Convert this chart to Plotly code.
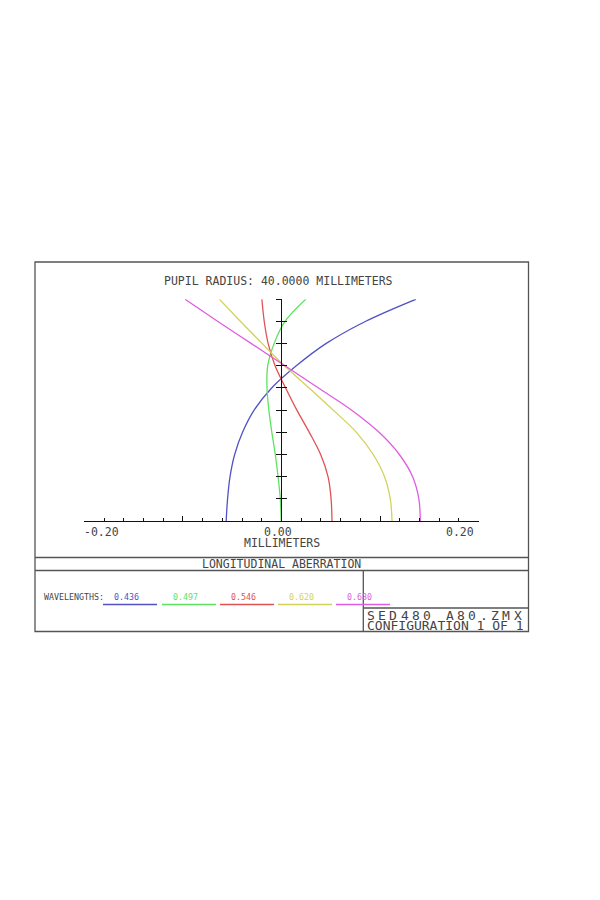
"""Longitudinal aberration plot (lens design report style)."""

import plotly.graph_objects as go

# ── Data ──────────────────────────────────────────────────────────────────────
WAVELENGTHS = ["0.436", "0.497", "0.546", "0.620", "0.680"]
COLORS = ["#5252c6", "#5ee35e", "#e05252", "#d2d25a", "#e05ce0"]

# normalised pupil coordinate
PUPIL = [0.0, 0.1, 0.2, 0.3, 0.4, 0.5, 0.6, 0.7, 0.8, 0.9, 1.0]

# longitudinal focus shift (mm) per wavelength
SHIFT_436 = [-0.0561, -0.0547, -0.0522, -0.0475, -0.0395, -0.0278, -0.0100,
             0.0150, 0.0450, 0.0850, 0.1362]
SHIFT_497 = [-0.0003, -0.0012, -0.0035, -0.0063, -0.0098, -0.0128, -0.0147,
             -0.0140, -0.0075, 0.0035, 0.0246]
SHIFT_546 = [0.0512, 0.0503, 0.0472, 0.0397, 0.0282, 0.0156, 0.0042,
             -0.0065, -0.0135, -0.0175, -0.0199]
SHIFT_620 = [0.1121, 0.1103, 0.1045, 0.0930, 0.0760, 0.0525, 0.0280,
             0.0030, -0.0195, -0.0415, -0.0629]
SHIFT_680 = [0.1408, 0.1393, 0.1330, 0.1195, 0.0990, 0.0712, 0.0375,
             0.0035, -0.0305, -0.0645, -0.0978]

SHIFTS = [SHIFT_436, SHIFT_497, SHIFT_546, SHIFT_620, SHIFT_680]

X_TICK_LABELS = ["-0.20", "0.00", "0.20"]

W, H = 600, 900
OFF = 8          # page margin of the html body
INK = "#444444"
FRAME = "#555555"
MONO = "DejaVu Sans Mono"


def px(x):
    return (x - OFF) / W


def py(y):
    return 1 - (y - OFF) / H


def text(s, x, y, size=11.5, color=INK, xanchor="center"):
    return dict(text=s, x=px(x), y=py(y), xref="paper", yref="paper",
                showarrow=False, xanchor=xanchor, yanchor="middle",
                font=dict(family=MONO, size=size, color=color))


def spaced(s, x0, pitch, y, size):
    # plotter-style text with a wide fixed character pitch
    return [text(c, x0 + (i + 0.5) * pitch, y, size=size)
            for i, c in enumerate(s) if c != " "]


def hline(x0, x1, y, color=FRAME, width=1.3):
    return dict(type="line", xref="paper", yref="paper",
                x0=px(x0), x1=px(x1), y0=py(y), y1=py(y),
                line=dict(color=color, width=width))


def vline(x, y0, y1, color=FRAME, width=1.3):
    return dict(type="line", xref="paper", yref="paper",
                x0=px(x), x1=px(x), y0=py(y0), y1=py(y1),
                line=dict(color=color, width=width))


# ── Figure ────────────────────────────────────────────────────────────────────
fig = go.Figure()
for shift, color, wl in zip(SHIFTS, COLORS, WAVELENGTHS):
    fig.add_trace(go.Scatter(
        x=shift, y=PUPIL, mode="lines", name=wl,
        line=dict(color=color, width=1.3, shape="spline", smoothing=1.0),
        hoverinfo="skip", yaxis="y",
    ))
# invisible trace so the second y-axis (crossing ticks) renders
fig.add_trace(go.Scatter(x=[None], y=[None], yaxis="y2", showlegend=False,
                         hoverinfo="skip"))

tick_vals = [i / 10 for i in range(11)]
axis_common = dict(range=[0, 1], domain=[py(521), py(299.3)], showgrid=False,
                   zeroline=False, tickvals=tick_vals, showticklabels=False,
                   ticklen=5, tickwidth=1.2, tickcolor="#111111",
                   anchor="free", position=px(281.3), fixedrange=True)

shapes = [
    dict(type="rect", xref="paper", yref="paper",
         x0=px(35), x1=px(528.5), y0=py(262), y1=py(631.5),
         line=dict(color=FRAME, width=1.3)),
    hline(35, 528.5, 557.5),
    hline(35, 528.5, 570.5),
    vline(363.3, 570.5, 631.5),
    hline(363.3, 528.5, 608),
]

annotations = [
    text("PUPIL RADIUS: 40.0000 MILLIMETERS", 278, 281),
    text(X_TICK_LABELS[0], 82, 531.7, xanchor="left"),
    text(X_TICK_LABELS[1], 278, 531.7),
    text(X_TICK_LABELS[2], 476, 531.7, xanchor="right"),
    text("MILLIMETERS", 281.7, 543),
    text("LONGITUDINAL ABERRATION", 281.7, 564),
    text("WAVELENGTHS:", 42, 596.5, size=8.3, xanchor="left"),
    text("CONFIGURATION 1 OF 1", 365, 625.5, size=13, xanchor="left"),
]
annotations += spaced("SED480 A80.ZMX", 365, 11.3, 615, 13)

legend_x = [103, 162, 220, 278, 336]
for x0, wl, color in zip(legend_x, WAVELENGTHS, COLORS):
    annotations.append(text(wl, x0 + 9, 597, size=8.3, color=color, xanchor="left"))
    shapes.append(hline(x0, x0 + 54, 604.5, color=color, width=1.3))

fig.update_layout(
    width=W, height=H,
    margin=dict(l=0, r=0, t=0, b=0),
    paper_bgcolor="white", plot_bgcolor="rgba(0,0,0,0)",
    showlegend=False,
    xaxis=dict(range=[-0.2, 0.2], domain=[px(84.3), px(478.7)],
               showline=True, linecolor="#111111", linewidth=1.2,
               showgrid=False, zeroline=False, showticklabels=False,
               tickvals=[-0.2, -0.1, 0, 0.1, 0.2], ticks="inside",
               ticklen=5, tickwidth=1.1, tickcolor="#111111",
               minor=dict(dtick=0.02, ticks="inside", ticklen=3,
                          tickwidth=1, tickcolor="#111111"),
               anchor="y", fixedrange=True),
    yaxis=dict(ticks="outside", showline=True, linecolor="#111111",
               linewidth=1.2, **axis_common),
    yaxis2=dict(ticks="inside", showline=False, overlaying="y",
                **axis_common),
    shapes=shapes,
    annotations=annotations,
)

fig.write_html("out.html")
